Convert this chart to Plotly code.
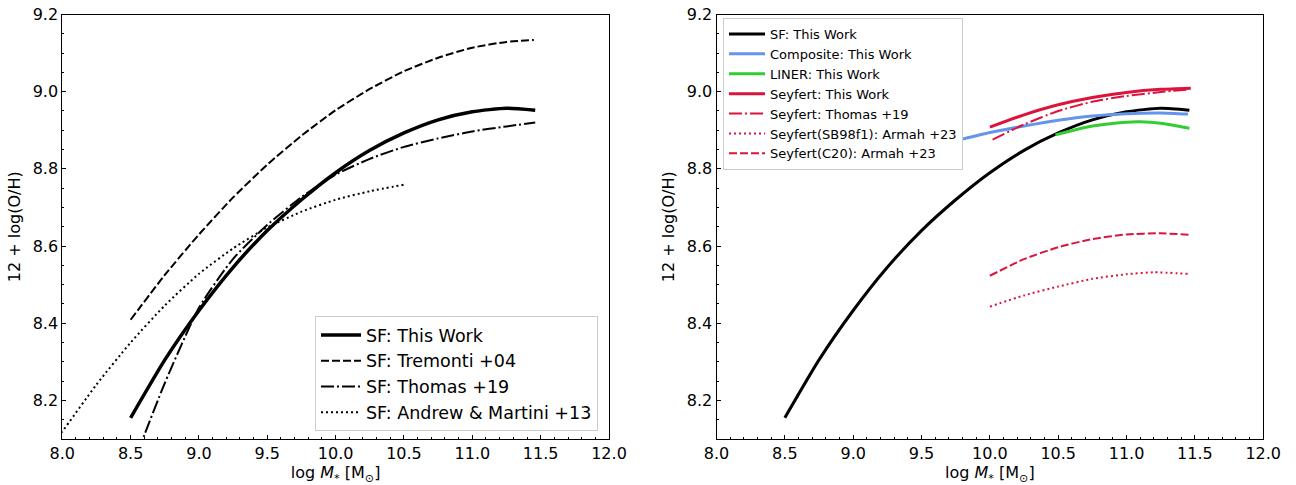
import plotly.graph_objects as go

# ---------------- data ----------------
# Left panel
sf_x = [8.5, 8.75, 9.0, 9.25, 9.5, 9.75, 10.0, 10.25, 10.5, 10.75, 11.0, 11.25, 11.46]
sf_y = [8.155, 8.305, 8.433, 8.545, 8.640, 8.720, 8.790, 8.848, 8.893, 8.927, 8.948, 8.957, 8.952]

tremonti_x = [8.5, 8.75, 9.0, 9.25, 9.5, 9.75, 10.0, 10.25, 10.5, 10.75, 11.0, 11.25, 11.45]
tremonti_y = [8.409, 8.525, 8.630, 8.726, 8.811, 8.886, 8.952, 9.007, 9.053, 9.088, 9.114, 9.129, 9.134]

thomas_x = [8.5, 8.6, 8.75, 9.0, 9.25, 9.5, 9.75, 10.0, 10.25, 10.5, 10.75, 11.0, 11.25, 11.46]
thomas_y = [8.015, 8.110, 8.245, 8.440, 8.567, 8.655, 8.727, 8.785, 8.826, 8.857, 8.879, 8.897, 8.910, 8.920]

am13_x = [7.95, 8.0, 8.25, 8.5, 8.75, 9.0, 9.25, 9.5, 9.75, 10.0, 10.25, 10.5]
am13_y = [8.095, 8.119, 8.241, 8.350, 8.446, 8.528, 8.594, 8.648, 8.689, 8.720, 8.742, 8.759]

# Right panel
comp_x = [9.8, 10.0, 10.25, 10.5, 10.75, 11.0, 11.25, 11.45]
comp_y = [8.877, 8.894, 8.911, 8.926, 8.937, 8.943, 8.945, 8.942]

liner_x = [10.48, 10.75, 11.0, 11.1, 11.25, 11.46]
liner_y = [8.888, 8.911, 8.921, 8.922, 8.918, 8.905]

sey_x = [10.0, 10.25, 10.5, 10.75, 11.0, 11.25, 11.47]
sey_y = [8.908, 8.940, 8.966, 8.985, 8.998, 9.006, 9.009]

sey_thomas_x = [10.02, 10.25, 10.5, 10.75, 11.0, 11.25, 11.46]
sey_thomas_y = [8.876, 8.915, 8.950, 8.974, 8.989, 8.999, 9.006]

sey_sb98_x = [10.0, 10.25, 10.5, 10.75, 11.0, 11.2, 11.45]
sey_sb98_y = [8.443, 8.472, 8.495, 8.515, 8.527, 8.532, 8.528]

sey_c20_x = [10.0, 10.25, 10.5, 10.75, 11.0, 11.25, 11.47]
sey_c20_y = [8.523, 8.566, 8.597, 8.618, 8.630, 8.633, 8.629]

x_ticks = [8.0, 8.5, 9.0, 9.5, 10.0, 10.5, 11.0, 11.5, 12.0]
y_ticks = [8.2, 8.4, 8.6, 8.8, 9.0, 9.2]

# ---------------- styles ----------------
FONT = "DejaVu Sans"
RED = "#DC143C"
BLUE = "#6495ED"
GREEN = "#32CD32"
THICK = 3.5
THIN = 2
DASHED = "8px,3px"
DASHDOT = "13px,3px,2px,3px"
DOTTED = "2px,3px"

fig = go.Figure()


def add(x, y, name, color, width, dash, xa, ya, legend, group):
    fig.add_trace(go.Scatter(
        x=x, y=y, name=name, mode="lines",
        line=dict(color=color, width=width, dash=dash, shape="spline", smoothing=0.6),
        xaxis=xa, yaxis=ya, legend=legend, legendgroup=group,
        hoverinfo="skip",
    ))


# left
add(sf_x, sf_y, "SF: This Work", "black", THICK, "solid", "x", "y", "legend", "a1")
add(tremonti_x, tremonti_y, "SF: Tremonti +04", "black", THIN, DASHED, "x", "y", "legend", "a2")
add(thomas_x, thomas_y, "SF: Thomas +19", "black", THIN, DASHDOT, "x", "y", "legend", "a3")
add(am13_x, am13_y, "SF: Andrew & Martini +13", "black", THIN, DOTTED, "x", "y", "legend", "a4")

# right
add(sf_x, sf_y, "SF: This Work", "black", THICK - 0.5, "solid", "x2", "y2", "legend2", "b1")
add(comp_x, comp_y, "Composite: This Work", BLUE, THICK - 0.5, "solid", "x2", "y2", "legend2", "b2")
add(liner_x, liner_y, "LINER: This Work", GREEN, THICK - 0.5, "solid", "x2", "y2", "legend2", "b3")
add(sey_x, sey_y, "Seyfert: This Work", RED, THICK - 0.5, "solid", "x2", "y2", "legend2", "b4")
add(sey_thomas_x, sey_thomas_y, "Seyfert: Thomas +19", RED, THIN, DASHDOT, "x2", "y2", "legend2", "b5")
add(sey_sb98_x, sey_sb98_y, "Seyfert(SB98f1): Armah +23", RED, THIN, DOTTED, "x2", "y2", "legend2", "b6")
add(sey_c20_x, sey_c20_y, "Seyfert(C20): Armah +23", RED, THIN, DASHED, "x2", "y2", "legend2", "b7")

W, H = 1296, 485
ML, MR, MT, MB = 10, 10, 10, 10
PW, PH = W - ML - MR, H - MT - MB


def fx(px):
    return (px - ML) / PW


def fy(py):
    return (H - MB - py) / PH


ydom = [fy(439), fy(14.5)]

xtitle = "log <i>M</i><sub>*</sub> [M<sub>⊙</sub>]"
ytitle = "12 + log(O/H)"


def xaxis(dom, anchor):
    return dict(
        domain=dom, anchor=anchor, range=[8.0, 12.0], automargin=False,
        tickmode="array", tickvals=x_ticks, ticktext=[f"{v:.1f}" for v in x_ticks],
        ticks="inside", ticklen=4, tickwidth=1, tickcolor="black",
        minor=dict(dtick=0.1, tick0=8.0, ticks="inside", ticklen=2, tickwidth=1, tickcolor="black"),
        showline=True, linecolor="black", linewidth=1, mirror=True,
        showgrid=False, zeroline=False,
        tickfont=dict(family=FONT, size=16, color="black"),
        title=dict(text=xtitle, font=dict(family=FONT, size=16, color="black"), standoff=0),
    )


def yaxis(anchor):
    return dict(
        domain=ydom, anchor=anchor, range=[8.1, 9.2 + 1e-9], automargin=False,
        tickmode="array", tickvals=y_ticks, ticktext=[f"{v:.1f}" for v in y_ticks],
        ticks="inside", ticklen=4, tickwidth=1, tickcolor="black",
        minor=dict(dtick=0.05, tick0=8.0, ticks="inside", ticklen=2, tickwidth=1, tickcolor="black"),
        showline=True, linecolor="black", linewidth=1, mirror=True,
        showgrid=False, zeroline=False,
        tickfont=dict(family=FONT, size=16, color="black"),
        title=dict(text=ytitle, font=dict(family=FONT, size=16, color="black"), standoff=8),
    )


fig.update_layout(
    width=W, height=H,
    margin=dict(l=ML, r=MR, t=MT, b=MB, autoexpand=False),
    paper_bgcolor="white", plot_bgcolor="white",
    font=dict(family=FONT, color="black"),
    xaxis=xaxis([fx(62.3), fx(609)], "y"),
    yaxis=yaxis("x"),
    xaxis2=xaxis([fx(716.5), fx(1263.2)], "y2"),
    yaxis2=yaxis("x2"),
    legend=dict(
        x=fx(598), xanchor="right", y=fy(431), yanchor="bottom",
        xref="paper", yref="paper",
        bgcolor="rgba(255,255,255,0.8)", bordercolor="#cccccc", borderwidth=1,
        font=dict(family=FONT, size=17.5, color="black"),
        tracegroupgap=0, itemwidth=40,
    ),
    legend2=dict(
        x=fx(723), xanchor="left", y=fy(18), yanchor="top",
        xref="paper", yref="paper",
        bgcolor="rgba(255,255,255,0.8)", bordercolor="#cccccc", borderwidth=1,
        font=dict(family=FONT, size=13, color="black"),
        tracegroupgap=0, itemwidth=36,
    ),
    showlegend=True,
)

fig.write_html(
    "out.html",
    config={"displayModeBar": False},
    post_script="document.body.style.margin='0';document.body.style.overflow='hidden';",
)
